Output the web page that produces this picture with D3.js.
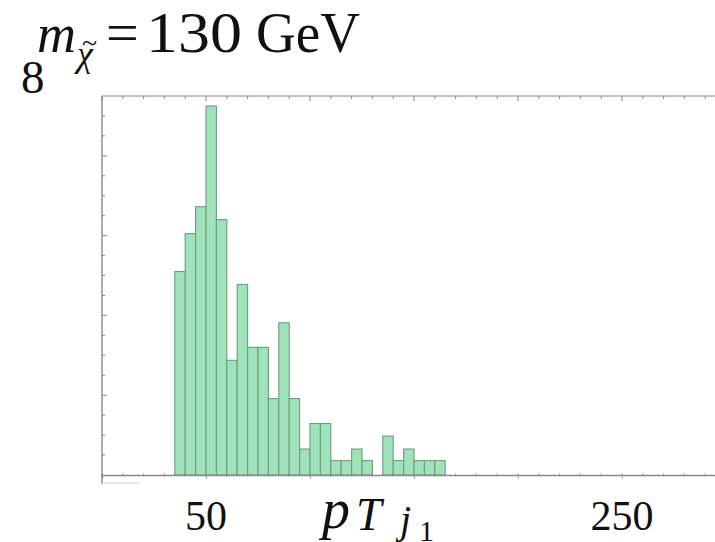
<!DOCTYPE html>
<html>
<head>
<meta charset="utf-8">
<script src="https://cdn.jsdelivr.net/npm/d3@7"></script>
<style>
  html, body { margin: 0; padding: 0; background: #fff; }
  svg { display: block; }
  text { font-family: "Liberation Serif", "DejaVu Serif", serif; fill: #111; }
</style>
</head>
<body>
<svg id="chart" width="715" height="542"></svg>
<script>
// Histogram of leading-jet transverse momentum, 5 GeV bins
const binStarts = [35, 40, 45, 50, 55, 60, 65, 70, 75, 80, 85, 90, 95,
                   100, 105, 110, 115, 120, 125, 130, 135, 140, 145, 150, 155, 160];
const binWidth = 5;
const heights = [10.2, 12.1, 13.45, 18.5, 12.8, 5.75, 9.55, 6.4, 6.4, 3.83, 7.63, 3.83, 1.3,
                 2.58, 2.58, 0.72, 0.72, 1.3, 0.72, 0, 1.95, 0.72, 1.3, 0.72, 0.72, 0.72];
const xTickLabels = [50, 250];
const xDomain = [0, 300];
const yDomain = [0, 19];

const svg = d3.select("#chart");
const plotLeft = 102, plotTop = 96, plotBottom = 475, plotRight = 726;

const x = d3.scaleLinear().domain(xDomain).range([plotLeft, plotRight]);
const y = d3.scaleLinear().domain(yDomain).range([plotBottom, plotTop]);

const axisColor = "#8a8a8a";

// bars
svg.append("g")
  .selectAll("rect")
  .data(binStarts.map((s, i) => ({ s, h: heights[i] })).filter(d => d.h > 0))
  .join("rect")
  .attr("x", d => x(d.s))
  .attr("width", d => x(d.s + binWidth) - x(d.s))
  .attr("y", d => y(d.h))
  .attr("height", d => y(0) - y(d.h))
  .attr("fill", "#a0e3ba")
  .attr("stroke", "#6e9c7e")
  .attr("stroke-width", 1.1);

// frame: top and left edges
svg.append("line").attr("x1", plotLeft).attr("x2", plotRight).attr("y1", plotTop).attr("y2", plotTop)
  .attr("stroke", axisColor).attr("stroke-width", 1);
svg.append("line").attr("x1", plotLeft).attr("x2", plotLeft).attr("y1", plotTop).attr("y2", plotBottom + 9)
  .attr("stroke", axisColor).attr("stroke-width", 1.4);

// top axis ticks (inward)
const xTicks = d3.range(0, 301, 10);
svg.append("g").selectAll("line").data(xTicks).join("line")
  .attr("x1", d => x(d)).attr("x2", d => x(d))
  .attr("y1", plotTop).attr("y2", d => plotTop + (d % 50 === 0 ? 5 : 3))
  .attr("stroke", axisColor).attr("stroke-width", 1);

// left axis ticks (inward)
const yTicks = d3.range(1, 19, 1);
svg.append("g").selectAll("line").data(yTicks).join("line")
  .attr("x1", plotLeft).attr("x2", d => plotLeft + (d % 4 === 0 ? 5 : 3))
  .attr("y1", d => y(d)).attr("y2", d => y(d))
  .attr("stroke", axisColor).attr("stroke-width", 1);

// bottom axis
const xAxis = d3.axisBottom(x).tickValues(d3.range(50, 301, 50)).tickSize(4).tickFormat("");
const gx = svg.append("g").attr("transform", `translate(0,${plotBottom})`).call(xAxis);
gx.select(".domain").attr("stroke", axisColor).attr("stroke-width", 1.3);
gx.selectAll(".tick line").attr("stroke", "#aaa");
svg.append("g").selectAll("line").data(xTicks).join("line")
  .attr("x1", d => x(d)).attr("x2", d => x(d))
  .attr("y1", plotBottom - 1.5).attr("y2", plotBottom + 1.5)
  .attr("stroke", axisColor).attr("stroke-width", 1);
svg.append("line").attr("x1", plotLeft).attr("x2", plotLeft + 38).attr("y1", plotBottom + 8).attr("y2", plotBottom + 8)
  .attr("stroke", "#cfcfcf").attr("stroke-width", 1);

// tick labels
svg.append("g").selectAll("text").data(xTickLabels).join("text")
  .attr("x", d => x(d)).attr("y", 530)
  .attr("text-anchor", "middle").attr("font-size", 42)
  .text(d => d);

svg.append("text").attr("x", 21).attr("y", 93).attr("font-size", 47).text("8");

// x-axis label p_{T j_1}
const xl = svg.append("g");
xl.append("text").attr("x", 322).attr("y", 528).attr("font-size", 56).attr("font-style", "italic").text("p");
xl.append("text").attr("x", 356).attr("y", 530).attr("font-size", 46).attr("font-style", "italic").text("T");
xl.append("text").attr("x", 400).attr("y", 533).attr("font-size", 40).attr("font-style", "italic").text("j");
xl.append("text").attr("x", 419).attr("y", 541).attr("font-size", 30).text("1");

// title m_{\tilde\chi} = 130 GeV
const tl = svg.append("g");
tl.append("text").attr("x", 37).attr("y", 52).attr("font-size", 54).attr("font-style", "italic").text("m");
tl.append("text").attr("x", 77).attr("y", 66).attr("font-size", 36).attr("font-style", "italic").text("χ");
tl.append("text").attr("x", 82).attr("y", 52).attr("font-size", 28).text("~");
tl.append("text").attr("x", 106).attr("y", 52).attr("font-size", 58).text("=");
tl.append("text").attr("x", 146).attr("y", 52).attr("font-size", 56)
  .attr("textLength", 96).attr("lengthAdjust", "spacingAndGlyphs").text("130");
tl.append("text").attr("x", 256).attr("y", 52).attr("font-size", 56)
  .attr("textLength", 104).attr("lengthAdjust", "spacingAndGlyphs").text("GeV");
</script>
</body>
</html>
